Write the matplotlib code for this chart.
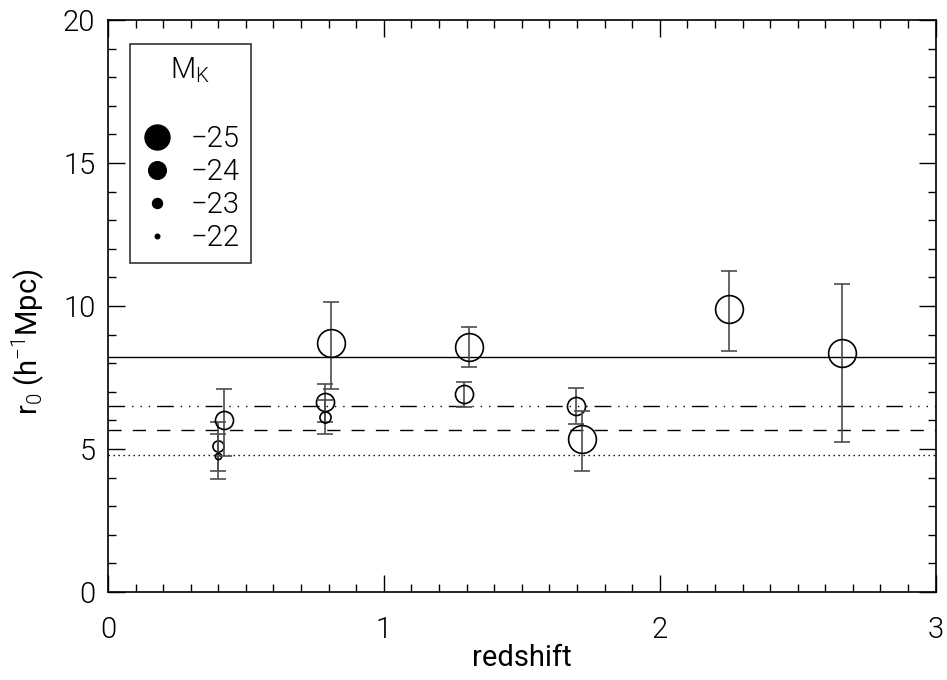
import matplotlib
matplotlib.use('Agg')
import matplotlib.pyplot as plt
from matplotlib import font_manager
from matplotlib.lines import Line2D
from matplotlib.ticker import MultipleLocator

# thin narrow-ish font to look like the IDL vector font
fam, wt = 'Liberation Sans', 'normal'
found = [(f.name, f.weight) for f in font_manager.fontManager.ttflist]
for cand in ['Roboto', 'Lato', 'Open Sans', 'Inter', 'Noto Sans']:
    light = [w for n, w in found if n == cand and isinstance(w, int) and w <= 300]
    if light:
        fam, wt = cand, min(light, key=lambda w: abs(w - 300))
        break
plt.rcParams['font.family'] = [fam, 'DejaVu Sans']
plt.rcParams['font.weight'] = wt
plt.rcParams['mathtext.fontset'] = 'custom'
plt.rcParams['mathtext.rm'] = '%s:weight=%s' % (fam, wt)
plt.rcParams['mathtext.it'] = '%s:weight=%s' % (fam, wt)

# clustering length vs redshift, one entry per sample
redshift = [0.40, 0.40, 0.42, 0.786, 0.786, 0.808, 1.29, 1.308, 1.696, 1.72, 2.25, 2.66]
r0 = [5.12, 4.74, 6.01, 6.64, 6.12, 8.71, 6.91, 8.58, 6.50, 5.36, 9.89, 8.37]
err_lo = [0.88, 0.80, 1.25, 0.68, 0.60, 1.61, 0.45, 0.72, 0.63, 1.12, 1.47, 3.14]
err_hi = [0.84, 0.80, 1.10, 0.63, 0.60, 1.43, 0.43, 0.67, 0.63, 0.98, 1.32, 2.40]
mag_k = [-23, -22, -24, -24, -23, -25, -24, -25, -24, -25, -25, -25]

# reference levels (horizontal lines)
ref_levels = [8.22, 6.50, 5.65, 4.80]
ref_styles = ['-', (0, (12, 5, 1, 5, 1, 5, 1, 5)), (0, (9.5, 8)), (0, (1, 2.6))]

legend_mags = [-25, -24, -23, -22]
marker_size = {-25: 20, -24: 13, -23: 8, -22: 4.5}
legend_size = {-25: 18, -24: 12.7, -23: 7.2, -22: 3.3}

fig = plt.figure(figsize=(9.47, 6.80), dpi=100)
ax = fig.add_axes([0.114, 0.1294, 0.874, 0.8412])

for lev, ls in zip(ref_levels, ref_styles):
    ax.axhline(lev, color='black', lw=1.0, ls=ls)

for i in range(len(redshift)):
    ax.errorbar(redshift[i], r0[i], yerr=[[err_lo[i]], [err_hi[i]]], fmt='none',
                ecolor='0.3', elinewidth=1.2, capsize=6, capthick=1.2)
    ax.plot(redshift[i], r0[i], 'o', ms=marker_size[mag_k[i]], mfc='none',
            mec='black', mew=1.2)

ax.set_xlim(0, 3)
ax.set_ylim(0, 20)
ax.xaxis.set_major_locator(MultipleLocator(1))
ax.xaxis.set_minor_locator(MultipleLocator(0.1))
ax.yaxis.set_major_locator(MultipleLocator(5))
ax.yaxis.set_minor_locator(MultipleLocator(1))
ax.tick_params(which='both', direction='in', top=True, right=True, width=1.0,
               labelsize=21, colors='black')
ax.tick_params(axis='x', which='major', pad=17)
ax.tick_params(axis='y', which='major', pad=9)
ax.tick_params(which='major', length=12)
ax.tick_params(which='minor', length=6)
for sp in ax.spines.values():
    sp.set_linewidth(1.2)

ax.set_xlabel('redshift', fontsize=21, labelpad=0)
ax.set_ylabel(r'r$_0$ (h$^{-1}$Mpc)', fontsize=21)
ax.yaxis.set_label_coords(-0.074, 0.437)

handles = [Line2D([], [], ls='none', marker='o', color='black',
                  ms=legend_size[m]) for m in legend_mags]
labels = ['\u2212%d' % abs(m) for m in legend_mags]
leg = ax.legend(handles, labels, title='M$_K$\n', loc='upper left',
                bbox_to_anchor=(0.0266, 0.958), fontsize=21, title_fontsize=21,
                frameon=True, fancybox=False, edgecolor='black',
                handlelength=1.1, handletextpad=0.6, labelspacing=0.17,
                borderpad=0.38, borderaxespad=0)
leg.get_title().set_linespacing(1.32)
leg.get_frame().set_linewidth(1.2)

fig.savefig('out.png', dpi=100)
